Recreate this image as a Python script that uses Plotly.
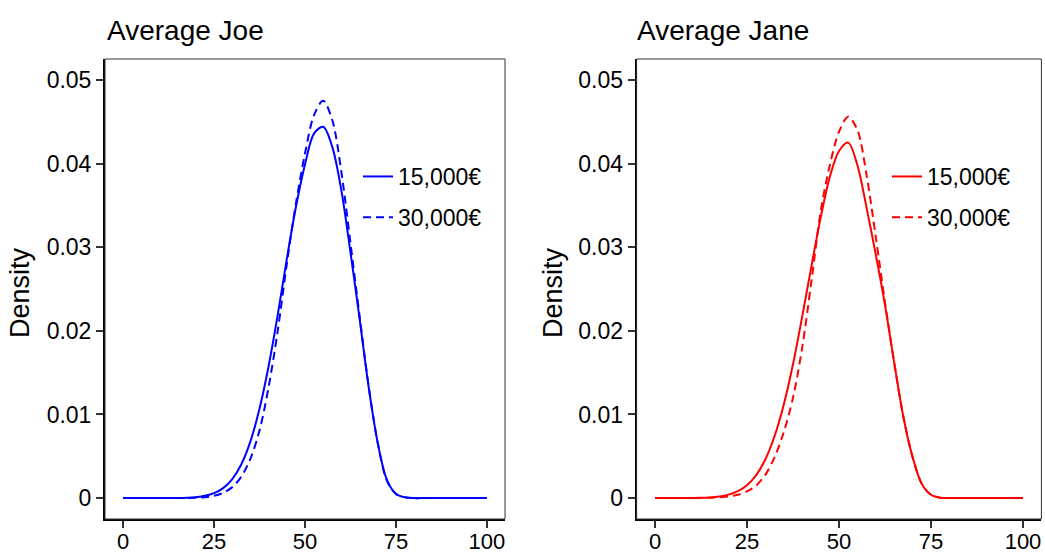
import plotly.graph_objects as go

# ---- data ----
x_grid = [0, 2.5, 5, 7.5, 10, 12.5, 15, 17.5, 20, 22.5, 25, 27.5, 30, 32.5, 35, 37.5,
          40, 42.5, 45, 47.5, 50, 52.5, 55, 57.5, 60, 62.5, 65, 67.5, 70, 72.5, 75,
          77.5, 80, 82.5, 85, 87.5, 90, 92.5, 95, 97.5, 100]

joe_15k = [0, 0, 0, 0, 0, 0, 0.00001, 0.00004, 0.00011, 0.00027, 0.00059, 0.00119, 0.00227,
           0.00405, 0.00678, 0.0107, 0.0158, 0.0219, 0.0286, 0.0348, 0.0399, 0.0436, 0.0444,
           0.0420, 0.0368, 0.0294, 0.0215, 0.0133, 0.0066, 0.0022, 0.0005, 0.0001, 0,
           0, 0, 0, 0, 0, 0, 0, 0]
joe_30k = [0, 0, 0, 0, 0, 0, 0, 0.00002, 0.00004, 0.0001, 0.00027, 0.00062, 0.00131,
           0.00257, 0.00472, 0.0081, 0.0133, 0.0200, 0.0280, 0.0352, 0.0412, 0.0458, 0.0475,
           0.0452, 0.0390, 0.0305, 0.0218, 0.0134, 0.0066, 0.0021, 0.0005, 0.0001, 0,
           0, 0, 0, 0, 0, 0, 0, 0]

jane_15k = [0, 0, 0, 0, 0.00001, 0.00003, 0.00008, 0.00019, 0.00041, 0.00082, 0.00154, 0.00275,
            0.00465, 0.00742, 0.0112, 0.0160, 0.0217, 0.0277, 0.0335, 0.0384, 0.0415, 0.0425,
            0.0398, 0.0347, 0.0291, 0.0231, 0.0162, 0.0097, 0.0049, 0.0017, 0.0004, 0.00005,
            0, 0, 0, 0, 0, 0, 0, 0, 0]
jane_30k = [0, 0, 0, 0, 0, 0.00001, 0.00004, 0.0001, 0.0002, 0.0004, 0.0008, 0.0015,
            0.0028, 0.0049, 0.0079, 0.0120, 0.0180, 0.0259, 0.0342, 0.0398, 0.0438, 0.0456,
            0.0440, 0.0386, 0.0312, 0.0234, 0.0162, 0.0097, 0.0049, 0.0017, 0.0004, 0.00005,
            0, 0, 0, 0, 0, 0, 0, 0, 0]

series_names = ["15,000\u20ac", "30,000\u20ac"]
panel_titles = ["Average Joe", "Average Jane"]
x_ticks = [0, 25, 50, 75, 100]
y_ticks = [0, 0.01, 0.02, 0.03, 0.04, 0.05]
y_tick_labels = ["0", "0.01", "0.02", "0.03", "0.04", "0.05"]

W, H = 1045, 555
FONT = "Liberation Sans, Arial, sans-serif"
BLUE = "#0000FF"
RED = "#FF0000"
DASH = "8px,5px"

def px_x(p):
    return p / W

def px_y(p):
    return 1 - p / H

fig = go.Figure()

panels = [
    dict(data=[joe_15k, joe_30k], color=BLUE, xa="x", ya="y", legend="legend"),
    dict(data=[jane_15k, jane_30k], color=RED, xa="x2", ya="y2", legend="legend2"),
]
for pi, p in enumerate(panels):
    for si, vals in enumerate(p["data"]):
        fig.add_trace(go.Scatter(
            x=x_grid, y=vals, mode="lines", name=series_names[si],
            line=dict(color=p["color"], width=2, dash=("solid" if si == 0 else DASH),
                      shape="spline", smoothing=0.9),
            xaxis=p["xa"], yaxis=p["ya"], legend=p["legend"],
            legendgroup=f"p{pi}s{si}", hoverinfo="skip",
        ))

ydom = [px_y(519), px_y(59)]
axis_common = dict(
    showgrid=False, zeroline=False, showline=True, linecolor="black", linewidth=2,
    ticks="outside", ticklen=7, tickwidth=1.5, tickcolor="#333333", automargin=False,
)
xfont = dict(family=FONT, size=22, color="black")
yfont = dict(family=FONT, size=23, color="black")
legend_common = dict(xanchor="left", yanchor="top", bgcolor="rgba(0,0,0,0)",
                     font=dict(family=FONT, size=23, color="black"),
                     traceorder="grouped", tracegroupgap=8)
fig.update_layout(
    width=W, height=H, margin=dict(l=0, r=0, t=0, b=0, autoexpand=False),
    paper_bgcolor="white", plot_bgcolor="white",
    font=dict(family=FONT, color="black"),
    xaxis=dict(domain=[px_x(105), px_x(505)], range=[-5, 105], tickvals=x_ticks,
               tickfont=xfont, ticklabelstandoff=-5, **axis_common),
    yaxis=dict(domain=ydom, range=[-0.0025, 0.0525], tickvals=y_ticks, ticktext=y_tick_labels,
               tickfont=yfont, **axis_common),
    xaxis2=dict(domain=[px_x(636.6), px_x(1041.4)], range=[-5, 105], tickvals=x_ticks,
                anchor="y2", tickfont=xfont, ticklabelstandoff=-5, **axis_common),
    yaxis2=dict(domain=ydom, range=[-0.0025, 0.0525], tickvals=y_ticks, ticktext=y_tick_labels,
                anchor="x2", tickfont=yfont, **axis_common),
    legend=dict(x=px_x(358), y=px_y(155), **legend_common),
    legend2=dict(x=px_x(887), y=px_y(155), **legend_common),
    showlegend=True,
)

# thin frame around each panel (top/right edges)
for xr, yr in [("x domain", "y domain"), ("x2 domain", "y2 domain")]:
    fig.add_shape(type="rect", xref=xr, yref=yr, x0=0, x1=1, y0=0, y1=1,
                  line=dict(color="#333333", width=1), layer="above")

# panel titles and y-axis titles
for title, xl in zip(panel_titles, [105, 635]):
    fig.add_annotation(text=title, x=px_x(xl), y=px_y(30), xref="paper", yref="paper",
                       xanchor="left", yanchor="middle", showarrow=False,
                       font=dict(family=FONT, size=28, color="black"))
for xl in [20, 553]:
    fig.add_annotation(text="Density", x=px_x(xl), y=px_y(293), xref="paper", yref="paper",
                       xanchor="center", yanchor="middle", showarrow=False, textangle=-90,
                       font=dict(family=FONT, size=27, color="black"))

fig.write_html("out.html", config={"displayModeBar": False},
               post_script="document.body.style.margin='0';")
